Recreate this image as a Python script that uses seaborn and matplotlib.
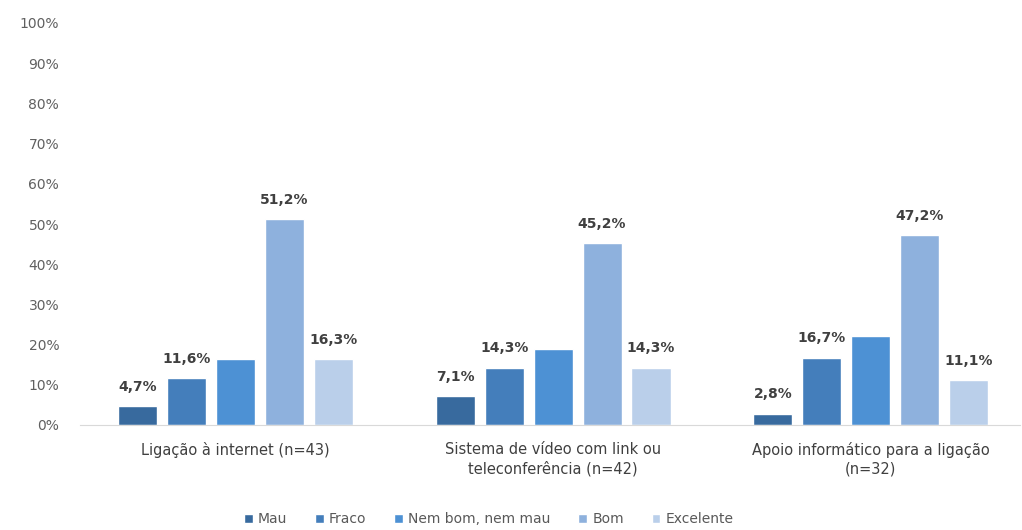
import matplotlib
matplotlib.use("Agg")
import matplotlib.pyplot as plt
import seaborn as sns
import pandas as pd

categories = ["Ligação à internet (n=43)",
              "Sistema de vídeo com link ou\nteleconferência (n=42)",
              "Apoio informático para a ligação\n(n=32)"]
ratings = ["Mau", "Fraco", "Nem bom, nem mau", "Bom", "Excelente"]
mau = [4.7, 7.1, 2.8]
fraco = [11.6, 14.3, 16.7]
nem = [16.3, 19.0, 22.2]
bom = [51.2, 45.2, 47.2]
excelente = [16.3, 14.3, 11.1]
# the middle category has no data label in the original
show_label = [True, True, False, True, True]
colors = ["#386a9e", "#447ebb", "#4d91d4", "#8eb1dd", "#bacfea"]

rows = []
for r, vals in zip(ratings, [mau, fraco, nem, bom, excelente]):
    for c, v in zip(categories, vals):
        rows.append({"cat": c, "rating": r, "value": v / 100})
df = pd.DataFrame(rows)

sns.set_style("white")
plt.rcParams['font.family'] = ['DejaVu Sans']

fig = plt.figure(figsize=(10.22, 5.30), dpi=100)
ax = fig.add_axes([80 / 1022, 105 / 530, 940 / 1022, 402 / 530])

sns.barplot(data=df, x="cat", y="value", hue="rating", hue_order=ratings,
            palette=colors, saturation=1, width=0.77, gap=0.2, ax=ax, legend=True)

for cont, show in zip(ax.containers, show_label):
    if show:
        ax.bar_label(cont, labels=[f"{b.get_height()*100:.1f}%".replace(".", ",") for b in cont],
                     padding=9, fontsize=10, fontweight="bold", color="#404040")

ax.set_ylim(0, 1)
ax.set_xlim(-0.49, 2.47)
ax.set_yticks([i / 10 for i in range(11)])
ax.set_yticklabels([f"{i*10}%" for i in range(11)])
ax.tick_params(axis="y", labelsize=10, labelcolor="#606060", length=0, pad=15)
ax.tick_params(axis="x", labelsize=10.5, labelcolor="#404040", length=0, pad=12)
for t in ax.get_xticklabels():
    t.set_linespacing(1.35)
ax.set_xlabel("")
ax.set_ylabel("")
for s in ["top", "right", "left"]:
    ax.spines[s].set_visible(False)
ax.spines["bottom"].set_color("#d9d9d9")

ax.legend(loc="center", bbox_to_anchor=(0.435, -0.235), ncol=5, frameon=False,
          fontsize=10, handlelength=0.6, handleheight=0.6, handletextpad=0.4,
          columnspacing=2.0, labelcolor="#595959")

fig.savefig("out.png", dpi=100)
